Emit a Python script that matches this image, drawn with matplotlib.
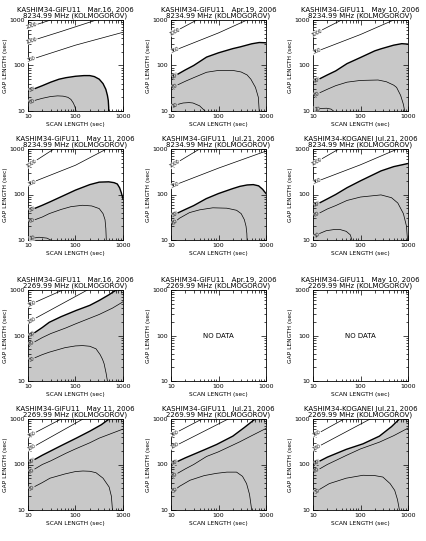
import numpy as np
import matplotlib
matplotlib.use("Agg")
from matplotlib import pyplot as plt

W, H = 427, 541

baselines = ["KASHIM34-GIFU11", "KASHIM34-GIFU11", "KASHIM34-GIFU11",
             "KASHIM34-GIFU11", "KASHIM34-GIFU11", "KASHIM34-KOGANEI"]
dates = ["Mar.16, 2006", "Apr.19, 2006", "May 10, 2006",
         "May 11, 2006", "Jul.21, 2006", "Jul.21, 2006"]
freqs = ["8234.99 MHz", "2269.99 MHz"]

# contours: (label, scan length, gap length); first one is the edge of the grey area
x_mar16 = [
    ("30", [10, 15, 20, 30, 45, 63, 100, 150, 200, 250, 316, 380, 435, 470, 490, 500, 500],
           [27, 32, 36, 43, 50, 54, 58, 60, 60, 57, 50, 40, 30, 22, 17, 12, 10]),
    ("60", [10, 15, 20, 30, 42, 55, 69, 80, 90, 97, 103],
           [15.3, 17.5, 19, 20.8, 21.5, 21.2, 20, 18, 15, 12.5, 10]),
    ("360", [10, 100, 1000], [129, 280, 537]),
    ("1000", [10, 50, 275], [330, 560, 1000]),
    ("2000", [10, 30], [690, 1000]),
]
x_apr19 = [
    ("90", [10, 20, 30, 56, 100, 200, 288, 500, 720, 1000],
           [53, 80, 100, 153, 190, 235, 257, 300, 320, 316]),
    ("60", [10, 20, 30, 56, 100, 200, 300, 400, 480, 600, 690, 720],
           [32, 45, 54, 71, 78, 78, 72, 62, 50, 33, 20, 10]),
    ("10", [10, 14, 18, 24, 29, 40, 52], [12.2, 14, 15, 15.3, 15, 13, 10]),
    ("360", [10, 100, 400], [200, 520, 1000]),
    ("1000", [10, 35], [500, 1000]),
]
x_may10 = [
    ("90", [10, 20, 30, 52, 100, 200, 275, 500, 740, 1000],
           [43, 62, 76, 110, 150, 210, 234, 280, 302, 295]),
    ("60", [10, 20, 30, 52, 100, 234, 350, 500, 575, 700, 800, 850],
           [21.5, 30, 36, 43, 47, 48, 44, 37, 33, 22, 14, 10]),
    ("10", [10, 15, 19.4, 24, 27], [11, 11.4, 11.5, 11, 10]),
    ("360", [10, 100, 500], [190, 480, 1000]),
    ("1000", [10, 40], [480, 1000]),
]
x_may11 = [
    ("30", [10, 20, 30, 63, 100, 200, 316, 500, 650, 760, 850, 920, 1000],
           [43, 58, 70, 100, 125, 165, 187, 190, 182, 170, 140, 110, 80]),
    ("60", [10, 20, 28, 50, 80, 141, 220, 316, 380, 418, 435, 445],
           [24.5, 32, 38, 47, 54, 58, 56, 49, 38, 28, 18, 10]),
    ("10", [10, 17, 25, 30], [10.5, 11.5, 11, 10]),
    ("360", [10, 100, 450], [170, 440, 1000]),
    ("1000", [10, 35], [430, 1000]),
]
x_jul21g = [
    ("30", [10, 20, 30, 55, 100, 200, 282, 400, 540, 700, 850, 950, 1000],
           [33.5, 47, 57, 81, 105, 135, 151, 162, 165, 155, 130, 112, 105]),
    ("60", [10, 15, 24.5, 40, 76, 150, 240, 300, 350, 380, 395, 400],
           [21, 30, 40, 46, 51, 50, 45, 38, 28, 20, 14, 10]),
    ("360", [10, 100, 1000], [150, 380, 900]),
    ("1000", [10, 40], [420, 1000]),
]
x_jul21k = [
    ("90", [10, 20, 30, 52, 100, 270, 500, 1000], [55, 80, 100, 141, 200, 330, 410, 480]),
    ("60", [10, 20, 30, 52, 100, 270, 450, 610, 800, 930, 975],
           [33, 48, 57, 74, 88, 98, 85, 65, 38, 20, 10]),
    ("10", [10, 14, 19, 28, 37, 50, 61, 66], [11, 14, 16, 17, 17, 15.5, 13, 10]),
    ("360", [10, 100, 600], [180, 450, 1000]),
    ("1000", [10, 35], [470, 1000]),
]
s_mar16 = [
    ("90", [10, 20, 28, 50, 103, 200, 316, 500, 720],
           [92, 150, 195, 260, 355, 460, 590, 780, 1000]),
    ("60", [10, 20, 30, 63, 100, 200, 316, 600, 1000],
           [60, 90, 110, 147, 180, 240, 290, 400, 550]),
    ("30", [10, 20, 28, 60, 100, 141, 200, 270, 330, 370, 400, 440, 470],
           [28, 38, 43, 54, 59, 60, 58, 51, 38, 30, 24, 15, 10]),
    ("180", [10, 178], [195, 1000]),
    ("360", [10, 54], [457, 1000]),
]
s_may11 = [
    ("90", [10, 20, 50, 104, 200, 350, 510], [107, 160, 260, 380, 540, 750, 1000]),
    ("60", [10, 20, 30, 64, 100, 200, 316, 600, 1000],
           [65, 100, 120, 178, 220, 300, 380, 490, 600]),
    ("30", [10, 20, 29, 60, 100, 144, 200, 270, 380, 510, 570, 600],
           [27.5, 40, 50, 62, 70, 72, 71, 66, 50, 32, 20, 10]),
    ("180", [10, 144], [210, 1000]),
    ("360", [10, 50], [415, 1000]),
]
s_jul21g = [
    ("90", [10, 20, 50, 91, 200, 350, 590], [100, 140, 210, 275, 420, 650, 1000]),
    ("60", [10, 20, 30, 56, 100, 282, 500, 1000], [53, 80, 100, 150, 190, 316, 430, 620]),
    ("30", [10, 15, 25, 50, 91, 150, 240, 320, 390, 450, 500],
           [23.5, 33, 45, 57, 64, 68, 68, 55, 38, 22, 10]),
    ("180", [10, 160], [230, 1000]),
    ("360", [10, 45], [440, 1000]),
]
s_jul21k = [
    ("90", [10, 20, 50, 113, 250, 450, 660], [100, 145, 215, 285, 420, 680, 1000]),
    ("60", [10, 20, 50, 100, 250, 500, 1000], [66, 100, 158, 220, 310, 430, 630]),
    ("30", [10, 15, 22, 50, 113, 200, 296, 420, 525, 600, 660],
           [23, 30, 38, 50, 58, 57, 53, 38, 27, 17, 10]),
    ("180", [10, 160], [215, 1000]),
    ("360", [10, 45], [420, 1000]),
]
panels = [x_mar16, x_apr19, x_may10, x_may11, x_jul21g, x_jul21k,
          s_mar16, None, None, s_may11, s_jul21g, s_jul21k]

col_left = [28, 171, 313]
row_top = [20, 149, 290, 419]
aw, ah = 95, 91
grey = "#c8c8c8"

fig = plt.figure(figsize=(W / 100, H / 100), dpi=100)


def curve_at(xs, ys, t):
    lx, ly = np.log10(xs), np.log10(ys)
    order = np.argsort(lx, kind="stable")
    return np.interp(t, lx[order], ly[order])


def put_label(ax, xs, ys, text, bg):
    lx = np.log10(xs)
    t = lx[0] + 0.08
    if t > lx[-1]:
        t = (lx[0] + lx[-1]) / 2
    p0 = ax.transData.transform((10 ** (t - 0.03), 10 ** curve_at(xs, ys, t - 0.03)))
    p1 = ax.transData.transform((10 ** (t + 0.03), 10 ** curve_at(xs, ys, t + 0.03)))
    ang = np.degrees(np.arctan2(p1[1] - p0[1], p1[0] - p0[0]))
    ax.text(10 ** t, 10 ** curve_at(xs, ys, t), text, fontsize=3.3, rotation=ang,
            ha="center", va="center", rotation_mode="anchor", zorder=3,
            bbox=dict(boxstyle="square,pad=0.05", fc=bg, ec="none"))


for i in range(12):
    r, c = divmod(i, 3)
    ax = fig.add_axes([col_left[c] / W, 1 - (row_top[r] + ah) / H, aw / W, ah / H])
    ax.set_xscale("log")
    ax.set_yscale("log")
    ax.set_xlim(10, 1000)
    ax.set_ylim(10, 1000)
    ax.set_xticks([10, 100, 1000])
    ax.set_yticks([10, 100, 1000])
    ax.set_xticklabels(["10", "100", "1000"])
    ax.set_yticklabels(["10", "100", "1000"])
    ax.tick_params(which="both", direction="in", top=True, right=True,
                   labelsize=4.5, pad=2, width=0.5)
    ax.tick_params(which="major", length=3.5)
    ax.tick_params(which="minor", length=1.8)
    for s in ax.spines.values():
        s.set_linewidth(0.6)
    ax.set_xlabel("SCAN LENGTH (sec)", fontsize=4.2, labelpad=2)
    ax.set_ylabel("GAP LENGTH (sec)", fontsize=4.2, labelpad=1)
    k = i % 6
    ax.set_title(baselines[k] + ("   " if len(baselines[k]) < 16 else " ") + dates[k]
                 + "\n" + freqs[i // 6] + " (KOLMOGOROV)",
                 fontsize=5, pad=1.5, linespacing=0.95)

    data = panels[i]
    if data is None:
        ax.text(100, 100, "NO DATA", fontsize=5, ha="center", va="center")
        continue

    # grey area under the first contour
    lab, tx, ty = data[0]
    px, py = list(tx), list(ty)
    if py[-1] >= 1000:
        px += [1000, 1000]
        py += [1000, 10]
    elif px[-1] >= 1000:
        px += [1000]
        py += [10]
    px += [10]
    py += [10]
    ax.fill(px, py, color=grey, lw=0, zorder=0)

    for j, (lab, xs, ys) in enumerate(data):
        ax.plot(xs, ys, color="black", lw=1.0 if j == 0 else 0.5, zorder=2)
        t0 = np.log10(xs[0]) + 0.08
        inside = j == 0 or curve_at(xs, ys, t0) < curve_at(tx, ty, t0)
        put_label(ax, xs, ys, lab, grey if inside else "white")

fig.savefig("out.png", dpi=100)
